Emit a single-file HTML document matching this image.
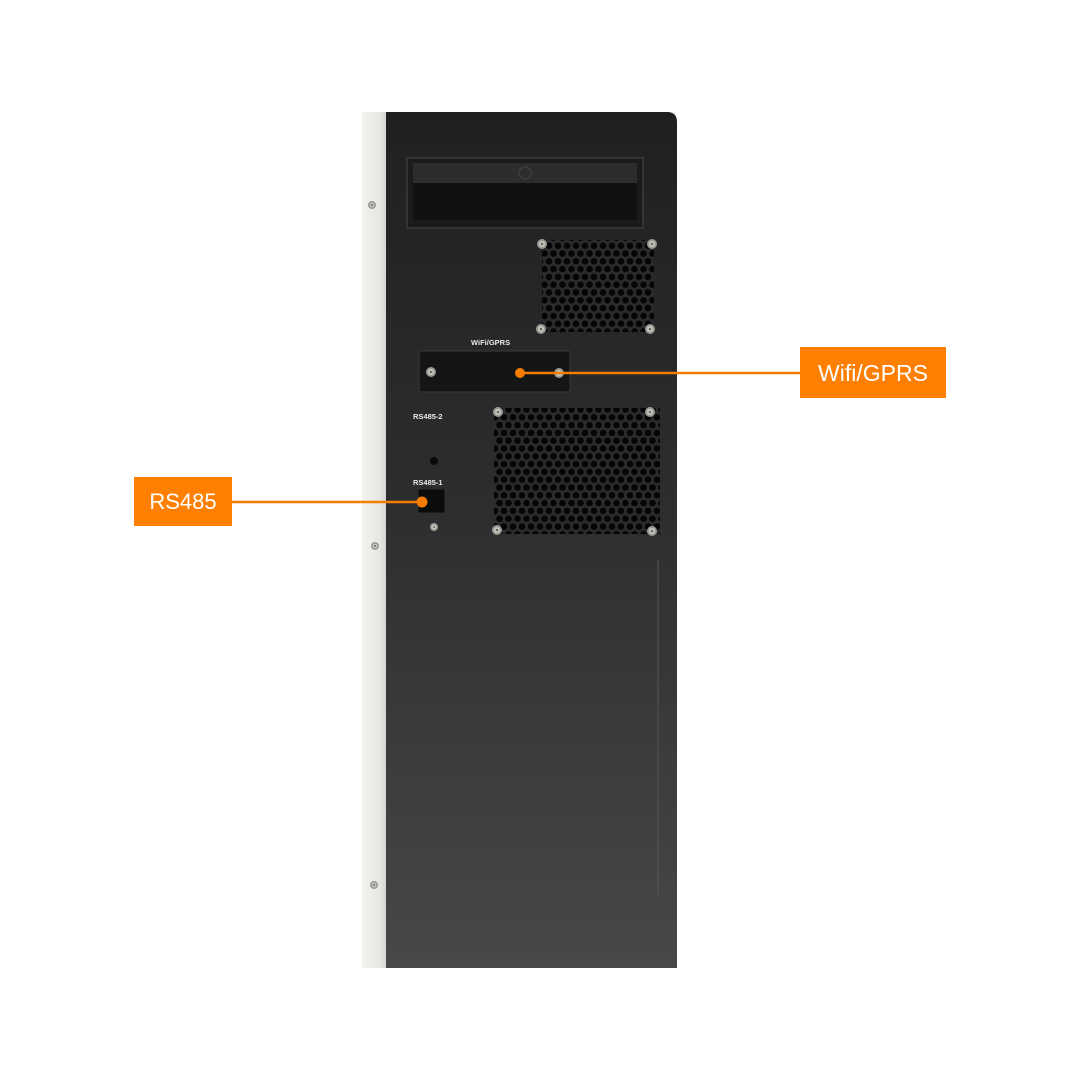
<!DOCTYPE html>
<html><head><meta charset="utf-8"><style>
html,body{margin:0;padding:0;background:#fff;}
svg{display:block}
</style></head><body>
<svg width="1080" height="1080" viewBox="0 0 1080 1080" xmlns="http://www.w3.org/2000/svg">
<defs>
<linearGradient id="body" x1="0" y1="0" x2="0" y2="1">
<stop offset="0" stop-color="#1f2022"/><stop offset="0.45" stop-color="#2c2d2f"/><stop offset="1" stop-color="#474849"/>
</linearGradient>
<linearGradient id="side" x1="0" y1="0" x2="1" y2="0">
<stop offset="0" stop-color="#f2f2ef"/><stop offset="0.7" stop-color="#e6e6e2"/><stop offset="1" stop-color="#cfcfcb"/>
</linearGradient>
<pattern id="hex" width="9" height="15.6" patternUnits="userSpaceOnUse">
<rect width="9" height="15.6" fill="#2a2b2d"/>
<circle cx="4.5" cy="3.9" r="3.3" fill="#050505"/>
<circle cx="0" cy="11.7" r="3.3" fill="#050505"/>
<circle cx="9" cy="11.7" r="3.3" fill="#050505"/>
</pattern>
<g id="screw"><circle r="5" fill="#9a9a94"/><circle r="3" fill="#c8c8c0"/><circle r="1.3" fill="#6a6a66"/></g>
</defs>
<!-- white side panel -->
<rect x="362" y="112" width="26" height="856" fill="url(#side)"/>
<use href="#screw" x="372" y="205" transform="translate(372 205) scale(0.8) translate(-372 -205)"/>
<use href="#screw" x="375" y="546" transform="translate(375 546) scale(0.8) translate(-375 -546)"/>
<use href="#screw" x="374" y="885" transform="translate(374 885) scale(0.8) translate(-374 -885)"/>
<!-- body -->
<path d="M386 112 H667 Q677 112 677 122 V968 H386 Z" fill="url(#body)"/>
<!-- handle -->
<rect x="407" y="158" width="236" height="70" fill="#1a1b1d" stroke="#333436" stroke-width="2"/>
<rect x="413" y="163" width="224" height="20" fill="#2c2d2f"/>
<rect x="413" y="183" width="224" height="37" fill="#101112"/>
<circle cx="525" cy="173" r="6" fill="none" stroke="#444" stroke-width="1"/>
<!-- fan 1 -->
<rect x="542" y="240" width="112" height="92" fill="url(#hex)"/>
<use href="#screw" x="542" y="244"/><use href="#screw" x="652" y="244"/>
<use href="#screw" x="541" y="329"/><use href="#screw" x="650" y="329"/>
<!-- wifi plate -->
<text x="471" y="345" font-family="Liberation Sans, sans-serif" font-size="7.5" font-weight="bold" fill="#e8e8e8">WiFi/GPRS</text>
<rect x="419" y="351" width="151" height="41" rx="2" fill="#141516" stroke="#3a3b3d" stroke-width="1"/>
<use href="#screw" x="431" y="372"/><use href="#screw" x="559" y="373"/>
<!-- fan 2 -->
<rect x="494" y="408" width="166" height="126" fill="url(#hex)"/>
<use href="#screw" x="498" y="412"/><use href="#screw" x="650" y="412"/>
<use href="#screw" x="497" y="530"/><use href="#screw" x="652" y="531"/>
<!-- RS485 -->
<text x="413" y="419" font-family="Liberation Sans, sans-serif" font-size="7.5" font-weight="bold" fill="#e8e8e8">RS485-2</text>
<rect x="415" y="423" width="30" height="27" fill="none" stroke="#2a2b2d" stroke-width="1"/>
<circle cx="434" cy="461" r="4" fill="#0a0a0a"/>
<text x="413" y="485" font-family="Liberation Sans, sans-serif" font-size="7.5" font-weight="bold" fill="#e8e8e8">RS485-1</text>
<rect x="418" y="489" width="27" height="24" fill="#0c0c0c" stroke="#2e2e30"/>
<use href="#screw" x="434" y="527" transform="translate(434 527) scale(0.8) translate(-434 -527)"/>
<!-- right edge scratch -->
<line x1="658" y1="560" x2="658" y2="895" stroke="#555" stroke-width="1"/>
<!-- callouts -->
<line x1="520" y1="373" x2="800" y2="373" stroke="#f57c00" stroke-width="2.5"/>
<circle cx="520" cy="373" r="5" fill="#f57c00"/>
<rect x="800" y="347" width="146" height="51" fill="#ff7f00"/>
<text x="873" y="381" text-anchor="middle" font-family="Liberation Sans, sans-serif" font-size="23" fill="#fff">Wifi/GPRS</text>
<line x1="232" y1="502" x2="422" y2="502" stroke="#f57c00" stroke-width="2.5"/>
<circle cx="422" cy="502" r="5.5" fill="#f57c00"/>
<rect x="134" y="477" width="98" height="49" fill="#ff7f00"/>
<text x="183" y="509" text-anchor="middle" font-family="Liberation Sans, sans-serif" font-size="22" fill="#fff">RS485</text>
</svg>
</body></html>
